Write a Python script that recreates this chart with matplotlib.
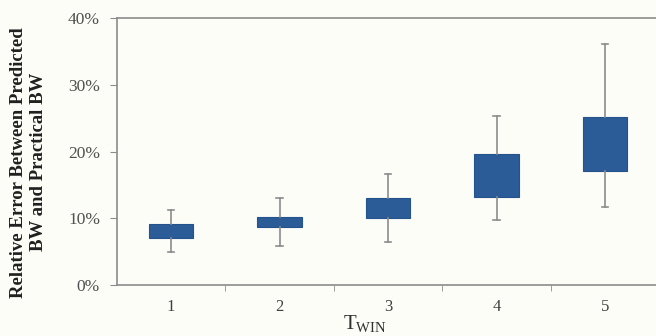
import matplotlib
matplotlib.use("Agg")
import matplotlib.pyplot as plt
from matplotlib.ticker import PercentFormatter

plt.rcParams['font.family'] = ['Liberation Serif', 'DejaVu Serif']
plt.rcParams['mathtext.fontset'] = 'custom'
plt.rcParams['mathtext.rm'] = 'Liberation Serif'

categories = ['1', '2', '3', '4', '5']
whisker_low = [4.9, 5.9, 6.4, 9.7, 11.7]
box_low = [7.1, 8.7, 10.1, 13.2, 17.1]
box_high = [9.2, 10.2, 13.1, 19.6, 25.2]
whisker_high = [11.2, 13.0, 16.6, 25.3, 36.1]
y_ticks = [0, 10, 20, 30, 40]

bg = '#fdfdf8'
box_color = '#2b5c98'
grey = '#8c8c8c'

fig = plt.figure(figsize=(6.56, 3.36), dpi=100, facecolor=bg)
ax = fig.add_axes([0.178, 0.152, 0.827, 0.794], facecolor=bg)

stats = []
for i, c in enumerate(categories):
    stats.append(dict(label=c, whislo=whisker_low[i], q1=box_low[i],
                      med=(box_low[i] + box_high[i]) / 2, q3=box_high[i],
                      whishi=whisker_high[i], fliers=[]))

pos = list(range(1, len(categories) + 1))
ax.bxp(stats, positions=pos, widths=0.41, capwidths=0.06, patch_artist=True,
       showfliers=False,
       boxprops=dict(facecolor=box_color, edgecolor='#24538c', linewidth=0.8),
       whiskerprops=dict(color=grey, linewidth=1.2),
       capprops=dict(color=grey, linewidth=1.2),
       medianprops=dict(linewidth=0))

ax.set_xlim(0.5, 5.5)
ax.set_ylim(0, 40)
ax.set_yticks(y_ticks)
ax.yaxis.set_major_formatter(PercentFormatter(decimals=0))
ax.set_xticks(pos)
ax.set_xticklabels(categories)
ax.set_xticks([1.5, 2.5, 3.5, 4.5], minor=True)
ax.tick_params(axis='x', which='major', length=0, pad=10, labelsize=12, labelcolor='#404040')
ax.tick_params(axis='x', which='minor', length=4, color=grey, direction='out')
ax.tick_params(axis='y', length=5, color=grey, direction='out', pad=7,
               labelsize=12.5, labelcolor='#505050')

for s in ['left', 'bottom', 'top']:
    ax.spines[s].set_color(grey)
    ax.spines[s].set_linewidth(1.2)
ax.spines['right'].set_visible(False)

ax.set_ylabel('Relative Error Between Predicted\nBW and Practical BW',
              fontsize=13.5, fontweight='bold', linespacing=1.2, color='#202020')
ax.yaxis.set_label_coords(-0.129, 0.46)
ax.set_xlabel(r'T$_{\mathregular{WIN}}$', fontsize=15, color='#303030')
ax.xaxis.set_label_coords(0.457, -0.105)

fig.savefig('out.png', dpi=100, facecolor=bg)
